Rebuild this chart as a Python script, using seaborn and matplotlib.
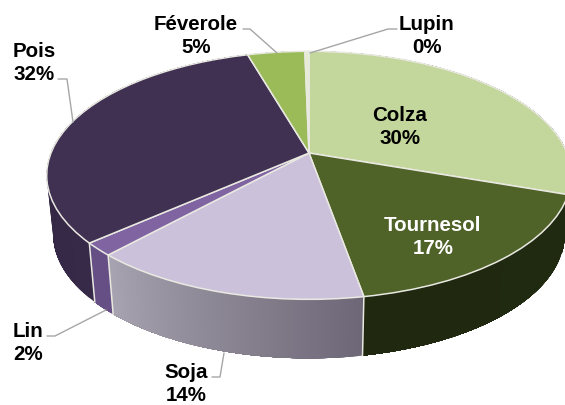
import numpy as np
import seaborn as sns
import matplotlib.pyplot as plt
import matplotlib.transforms as mtransforms
from matplotlib.colors import to_rgb

sns.set_theme(style="white")
plt.rcParams['font.family'] = ['Liberation Sans', 'DejaVu Sans']

cultures = ["Colza", "Tournesol", "Soja", "Lin", "Pois", "Féverole", "Lupin"]
parts = [30.3, 16.9, 14.6, 1.7, 32.0, 4.2, 0.3]
printed = [30, 17, 14, 2, 32, 5, 0]
top_colors = ["#c3d69b", "#4f6228", "#ccc1da", "#8064a2", "#403152", "#9bbb59", "#e4edd0"]
wall_start = ["#1f2a10", "#1f2a10", "#6d6777", "#654f85", "#372a49", "#6d8a38", "#8c9c68"]
wall_end = ["#1f2a10", "#20290f", "#a8a3b0", "#654f85", "#2d223c", "#6d8a38", "#8c9c68"]

# centre du camembert en pixels, vue en perspective
CX, CY = 309, 153
RX, RY, K = 258, 120, 0.18
DEPTH, SHRINK = 59, 0.975
RIM = "#e9e9e2"


class Perspective(mtransforms.Transform):
    input_dims = 2
    output_dims = 2
    is_separable = False

    def transform_non_affine(self, values):
        values = np.asarray(values, dtype=float)
        d = 1 + K * values[:, 1]
        return np.column_stack([CX + RX * values[:, 0] / d, CY - RY * values[:, 1] / d])


def rim(angles):
    pts = Perspective().transform_non_affine(np.column_stack([np.cos(angles), np.sin(angles)]))
    low = np.column_stack([CX + (pts[:, 0] - CX) * SHRINK, pts[:, 1] + DEPTH])
    return pts, low


fig = plt.figure(figsize=(5.65, 4.05), dpi=100)
ax = fig.add_axes([0, 0, 1, 1])

palette = sns.color_palette(top_colors)
wedges, _ = ax.pie(parts, colors=palette, startangle=90, counterclock=False, radius=1,
                   wedgeprops={"edgecolor": RIM, "linewidth": 1.1})
ax.set_aspect("auto")
ax.set_xlim(0, 565)
ax.set_ylim(405, 0)
ax.set_axis_off()
for w in wedges:
    w.set_transform(Perspective() + ax.transData)
    w.set_zorder(5)

# parois du cylindre, bandes qui se recouvrent pour le dégradé
edges = np.pi / 2 - 2 * np.pi * np.concatenate([[0], np.cumsum(parts)]) / np.sum(parts)
for i in range(len(parts)):
    steps = np.linspace(edges[i], edges[i + 1], 61)
    up, low = rim(steps)
    c0, c1 = np.array(to_rgb(wall_start[i])), np.array(to_rgb(wall_end[i]))
    for j in range(len(steps) - 1):
        col = c0 + (c1 - c0) * j / (len(steps) - 2)
        ax.fill(np.r_[up[j:, 0], low[j:, 0][::-1]], np.r_[up[j:, 1], low[j:, 1][::-1]],
                color=col, lw=0, zorder=2)
    # pas de trait Colza/Tournesol : il tombe au bord de l'image
    if cultures[i] != "Tournesol":
        ax.plot([up[0, 0], low[0, 0]], [up[0, 1], low[0, 1]], color=RIM, lw=1.1, zorder=3)

# traits de rappel
leaders = {
    "Lin": ([47, 55, 106], [336, 336, 310]),
    "Soja": ([212, 220, 224], [377, 377, 353]),
    "Pois": ([58, 67, 73], [79, 79, 122]),
    "Féverole": ([243, 250, 277], [29, 29, 53]),
    "Lupin": ([397, 388, 310], [29, 29, 53]),
}
for xs, ys in leaders.values():
    ax.plot(xs, ys, color="#a6a6a6", lw=1, zorder=6)

label_pos = [(400, 127), (433, 237), (186, 384), (28, 343), (34, 63), (196, 36), (427, 36)]
for name, pct, (x, y) in zip(cultures, printed, label_pos):
    color = "white" if name == "Tournesol" else "black"
    ax.text(x, y, f"{name}\n{pct}%", ha="center", va="center", fontsize=14.8,
            fontweight="bold", color=color, zorder=7, linespacing=1.22)

fig.savefig("out.png", dpi=100)
